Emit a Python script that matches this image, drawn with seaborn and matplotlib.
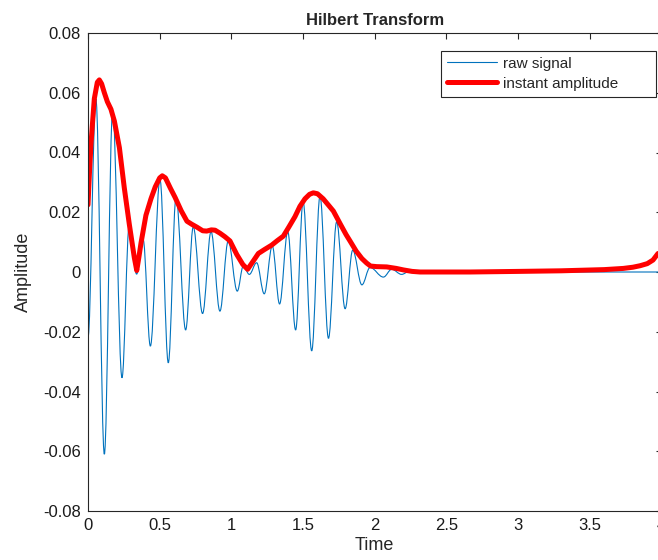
import matplotlib
matplotlib.use("Agg")
import matplotlib.pyplot as plt
from matplotlib.path import Path
from matplotlib.patches import PathPatch
from matplotlib.lines import Line2D
import pandas as pd
import seaborn as sns

# ---- data ----
# raw signal: successive extrema (time, value)
raw_t = [0.000, 0.055, 0.114, 0.172, 0.237, 0.288, 0.339, 0.384, 0.435, 0.502,
         0.560, 0.614, 0.681, 0.734, 0.799, 0.858, 0.920, 0.978, 1.041, 1.083,
         1.125, 1.176, 1.229, 1.285, 1.336, 1.393, 1.448, 1.500, 1.560, 1.618,
         1.677, 1.734, 1.793, 1.846, 1.910, 1.967, 2.060, 2.118, 2.187, 2.240,
         2.300, 3.990]
raw_v = [-0.0220, 0.0580, -0.0610, 0.0540, -0.0354, 0.0160, -0.0007, 0.0110, -0.0248, 0.0310,
         -0.0304, 0.0249, -0.0194, 0.0151, -0.0139, 0.0135, -0.0131, 0.0104, -0.0064, 0.0020,
         -0.0008, 0.0031, -0.0073, 0.0087, -0.0107, 0.0135, -0.0194, 0.0235, -0.0264, 0.0254,
         -0.0222, 0.0168, -0.0123, 0.0073, -0.0043, 0.0015, -0.0017, 0.0009, -0.0008, 0.0002,
         0.0000, 0.0000]

# instant amplitude (envelope)
amp_t = [0.000, 0.010, 0.021, 0.044, 0.065, 0.079, 0.095, 0.114, 0.135, 0.160,
         0.184, 0.219, 0.253, 0.288, 0.323, 0.340, 0.355, 0.370, 0.404, 0.439,
         0.469, 0.500, 0.518, 0.540, 0.575, 0.607, 0.650, 0.690, 0.723, 0.760,
         0.800, 0.828, 0.860, 0.886, 0.920, 0.955, 0.990, 1.037, 1.080, 1.113,
         1.150, 1.188, 1.230, 1.281, 1.320, 1.362, 1.400, 1.443, 1.478, 1.513,
         1.545, 1.571, 1.600, 1.640, 1.680, 1.711, 1.760, 1.800, 1.827, 1.870,
         1.910, 1.943, 1.970, 2.013, 2.083, 2.150, 2.199, 2.260, 2.315, 2.500,
         2.664, 3.000, 3.300, 3.600, 3.733, 3.800, 3.850, 3.900, 3.940, 3.975]
amp_v = [0.0225, 0.0330, 0.0430, 0.0580, 0.0635, 0.0643, 0.0630, 0.0600, 0.0570, 0.0545,
         0.0505, 0.0416, 0.0282, 0.0160, 0.0048, 0.0005, 0.0050, 0.0098, 0.0190, 0.0245,
         0.0285, 0.0315, 0.0322, 0.0315, 0.0280, 0.0250, 0.0205, 0.0170, 0.0160, 0.0150,
         0.0138, 0.0137, 0.0141, 0.0140, 0.0130, 0.0118, 0.0104, 0.0059, 0.0025, 0.0009,
         0.0035, 0.0062, 0.0075, 0.0090, 0.0105, 0.0120, 0.0150, 0.0185, 0.0220, 0.0245,
         0.0260, 0.0265, 0.0262, 0.0245, 0.0222, 0.0204, 0.0160, 0.0125, 0.0104, 0.0070,
         0.0045, 0.0030, 0.0020, 0.0018, 0.0017, 0.0012, 0.0007, 0.0002, 0.0000, 0.0000,
         0.0000, 0.0002, 0.0004, 0.0008, 0.0012, 0.0016, 0.0021, 0.0028, 0.0040, 0.0062]

x_ticks = [0, 0.5, 1, 1.5, 2, 2.5, 3, 3.5, 4]
x_tick_labels = ["0", "0.5", "1", "1.5", "2", "2.5", "3", "3.5", "4"]
y_ticks = [-0.08, -0.06, -0.04, -0.02, 0, 0.02, 0.04, 0.06, 0.08]
y_tick_labels = ["-0.08", "-0.06", "-0.04", "-0.02", "0", "0.02", "0.04", "0.06", "0.08"]

series_names = ["raw signal", "instant amplitude"]
BLUE = "#0072BD"
RED = "#FF0000"
DARK = "#262626"

sns.set_style("white")
plt.rcParams["font.family"] = ["Liberation Sans", "DejaVu Sans"]

W, H = 658, 560
fig = plt.figure(figsize=(W / 100, H / 100), dpi=100)
ax = fig.add_axes([88 / W, 1 - 511 / H, 573.6 / W, 478 / H])

# raw signal: smooth curve through the read extrema (horizontal tangents at extrema)
k = 0.3634
verts = [(raw_t[0], raw_v[0])]
codes = [Path.MOVETO]
for i in range(len(raw_t) - 1):
    t0, v0, t1, v1 = raw_t[i], raw_v[i], raw_t[i + 1], raw_v[i + 1]
    dt = t1 - t0
    verts += [(t0 + k * dt, v0), (t1 - k * dt, v1), (t1, v1)]
    codes += [Path.CURVE4] * 3
ax.add_patch(PathPatch(Path(verts, codes), facecolor="none", edgecolor=BLUE,
                       lw=0.8, transform=ax.transData))

amp_df = pd.DataFrame({"Time": amp_t, "Amplitude": amp_v})
sns.lineplot(data=amp_df, x="Time", y="Amplitude", color=RED, lw=3.6, ax=ax,
             estimator=None, sort=False)
for ln in ax.lines:
    ln.set_solid_joinstyle("round")

ax.set_xlim(0, 4)
ax.set_ylim(-0.08, 0.08)
ax.set_xticks(x_ticks)
ax.set_xticklabels(x_tick_labels)
ax.set_yticks(y_ticks)
ax.set_yticklabels(y_tick_labels)
ax.tick_params(direction="in", length=4, width=0.8, top=True, right=True,
               labelsize=12, color=DARK, labelcolor="#1a1a1a", pad=5)
for sp in ax.spines.values():
    sp.set_visible(True)
    sp.set_color(DARK)
    sp.set_linewidth(0.8)

ax.set_title("Hilbert Transform", fontweight="bold", fontsize=12, pad=6)
ax.set_xlabel("Time", fontsize=13, labelpad=3)
ax.set_ylabel("Amplitude", fontsize=13, labelpad=8)

handles = [Line2D([], [], color=BLUE, lw=0.8), Line2D([], [], color=RED, lw=3.6)]
leg = ax.legend(handles, series_names, loc="upper left",
                bbox_to_anchor=(0.615, 0.963, 0.3745, 0.0), mode="expand",
                borderaxespad=0, fontsize=11, handlelength=3.3, handletextpad=0.35,
                borderpad=0.4, labelspacing=0.38, frameon=True, fancybox=False,
                edgecolor=DARK, framealpha=1)
leg.get_frame().set_linewidth(0.8)

fig.savefig("out.png", dpi=100)
